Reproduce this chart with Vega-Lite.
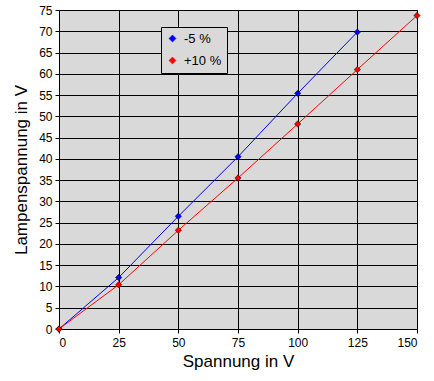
{
  "$schema": "https://vega.github.io/schema/vega-lite/v6.json",
  "width": 358,
  "height": 319,
  "autosize": {"type": "none"},
  "padding": {"left": 59, "top": 10, "right": 17, "bottom": 52},
  "background": "white",
  "config": {
    "font": "Liberation Sans",
    "view": {"fill": "#D9D9D9", "stroke": "black", "strokeWidth": 1}
  },
  "data": {
    "values": [
      {"u": 0, "v": 0, "s": "-5 %"},
      {"u": 25, "v": 12.1, "s": "-5 %"},
      {"u": 50, "v": 26.5, "s": "-5 %"},
      {"u": 75, "v": 40.5, "s": "-5 %"},
      {"u": 100, "v": 55.4, "s": "-5 %"},
      {"u": 125, "v": 69.8, "s": "-5 %"},
      {"u": 0, "v": 0, "s": "+10 %"},
      {"u": 25, "v": 10.4, "s": "+10 %"},
      {"u": 50, "v": 23.2, "s": "+10 %"},
      {"u": 75, "v": 35.5, "s": "+10 %"},
      {"u": 100, "v": 48.2, "s": "+10 %"},
      {"u": 125, "v": 61.0, "s": "+10 %"},
      {"u": 150, "v": 73.7, "s": "+10 %"}
    ]
  },
  "encoding": {
    "x": {
      "field": "u", "type": "quantitative",
      "scale": {"domain": [0, 150], "nice": false},
      "axis": {
        "values": [0, 25, 50, 75, 100, 125, 150],
        "title": "Spannung in V", "titleFontSize": 17, "titleFontWeight": "normal", "titleColor": "black", "titlePadding": 5,
        "labelFontSize": 12, "labelColor": "black", "labelPadding": 4,
        "grid": true, "gridColor": "black", "gridOpacity": 1, "gridWidth": 1,
        "domain": false, "tickColor": "black", "tickSize": 4
      }
    },
    "y": {
      "field": "v", "type": "quantitative",
      "scale": {"domain": [0, 75], "nice": false},
      "axis": {
        "values": [0, 5, 10, 15, 20, 25, 30, 35, 40, 45, 50, 55, 60, 65, 70, 75],
        "title": "Lampenspannung in V", "titleFontSize": 17, "titleFontWeight": "normal", "titleColor": "black", "titlePadding": 8,
        "labelFontSize": 12, "labelColor": "black", "labelPadding": 3,
        "grid": true, "gridColor": "black", "gridOpacity": 1, "gridWidth": 1,
        "domain": false, "tickColor": "black", "tickSize": 4
      }
    },
    "color": {
      "field": "s", "type": "nominal",
      "scale": {"domain": ["-5 %", "+10 %"], "range": ["#0000FF", "#FF0000"]},
      "legend": {
        "title": null, "orient": "none", "legendX": 102, "legendY": 17,
        "symbolType": "diamond", "symbolSize": 50, "symbolStrokeColor": "black", "symbolStrokeWidth": 0.5,
        "labelFontSize": 13, "labelColor": "black", "labelOffset": 5,
        "strokeColor": "black", "fillColor": "#D9D9D9", "padding": 5, "rowPadding": 8
      }
    }
  },
  "layer": [
    {"mark": {"type": "line", "strokeWidth": 1}},
    {"mark": {"type": "point", "shape": "diamond", "filled": true, "size": 40, "opacity": 1, "stroke": "black", "strokeWidth": 0.5}}
  ]
}
